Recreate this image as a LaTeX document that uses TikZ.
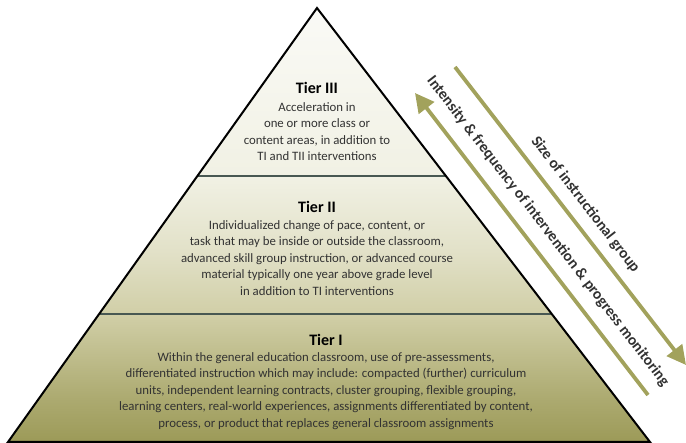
\documentclass[tikz,border=0pt]{standalone}
\usepackage{fontspec}
\setmainfont{Carlito}
\usetikzlibrary{arrows.meta,calc,positioning}

\definecolor{olive}{RGB}{162,162,92}
\definecolor{divider}{RGB}{72,88,82}
\definecolor{textgray}{RGB}{50,50,50}
\definecolor{shadetop}{RGB}{250,250,246}
\definecolor{shadeA}{RGB}{241,241,228}
\definecolor{shadeB}{RGB}{226,225,200}
\definecolor{shadeC}{RGB}{208,206,166}
\definecolor{shadeD}{RGB}{172,170,112}
\definecolor{shadebot}{RGB}{156,154,88}

\pgfdeclareverticalshading{pyramid}{100bp}{color(0bp)=(shadebot); color(25bp)=(shadebot); color(30bp)=(shadeD); color(39.5bp)=(shadeC); color(47bp)=(shadeB); color(55.6bp)=(shadeA); color(75bp)=(shadetop); color(100bp)=(shadetop)}

\tikzset{
  tiertitle/.style={font=\bfseries\fontsize{16}{18}\selectfont, text=black, inner sep=0pt},
  tierbody/.style={font=\fontsize{12.8}{16.4}\selectfont, text=textgray, align=center, inner sep=0pt},
  tierline/.style={divider, line width=2.2pt},
  bigarrow/.style={olive, line width=3.8pt, -{Triangle[length=19pt,width=19pt]}},
  arrowtext/.style={font=\bfseries\fontsize{15.5}{17}\selectfont, text=textgray, inner sep=0pt, sloped}
}

\begin{document}
\begin{tikzpicture}[x=1pt, y=-1pt]
\useasboundingbox (0,0) rectangle (686,443);
\coordinate (apex) at (317,8);
\coordinate (bl) at (8,442);
\coordinate (br) at (650,442);
\shade[shading=pyramid] (apex) -- (bl) -- (br) -- cycle;
% dividers between tiers
\draw[tierline] ($(apex)!0.387!(bl)$) -- ($(apex)!0.387!(br)$);
\draw[tierline] ($(apex)!0.705!(bl)$) -- ($(apex)!0.705!(br)$);
\draw[line width=2pt, line join=miter] (apex) -- (bl) -- (br) -- cycle;

\node[tiertitle] (t3) at (317,88) {Tier III};
\node[tierbody] (b3) at (317,131.5) {Acceleration in\\one or more class or\\content areas, in addition to\\TI and TII interventions};
\node[tiertitle] (t2) at (317,207) {Tier II};
\node[tierbody] (b2) at (317,258) {Individualized change of pace, content, or\\task that may be inside or outside the classroom,\\advanced skill group instruction, or advanced course\\material typically one year above grade level\\in addition to TI interventions};
\node[tiertitle] (t1) at (326,340) {Tier I};
\node[tierbody] (b1) at (326,391) {Within the general education classroom, use of pre-assessments,\\differentiated instruction which may include: compacted (further) curriculum\\units, independent learning contracts, cluster grouping, flexible grouping,\\learning centers, real-world experiences, assignments differentiated by content,\\process, or product that replaces general classroom assignments};

% arrows along the right side
\coordinate (upstart) at (648,395);
\coordinate (upend) at (415,93);
\coordinate (downstart) at (455,67);
\coordinate (downend) at (686,365);
\draw[bigarrow] (upstart) -- node[arrowtext, midway, above=12pt] (intensity) {Intensity \& frequency of intervention \& progress monitoring} (upend);
\draw[bigarrow] (downstart) -- node[arrowtext, midway, above=10pt] (size) {Size of instructional group} (downend);
\end{tikzpicture}
\end{document}
